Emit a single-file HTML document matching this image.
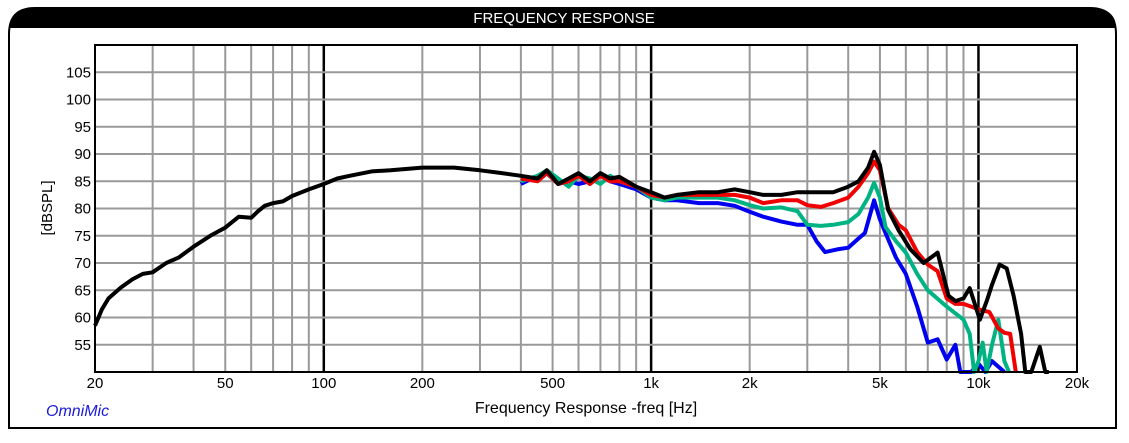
<!DOCTYPE html>
<html><head><meta charset="utf-8"><style>
html,body{margin:0;padding:0;background:#fff;width:1129px;height:443px;overflow:hidden}
svg text{font-family:"Liberation Sans",sans-serif}
</style></head><body>
<svg id="chart" width="1129" height="443" viewBox="0 0 1129 443" xmlns="http://www.w3.org/2000/svg">
<path d="M9,428 L9,34 Q9,8 35,8 L1090,8 Q1116,8 1116,34 L1116,428 Z" fill="#fff" stroke="#000" stroke-width="2"/>
<path d="M9,28 L9,34 Q9,8 35,8 L1090,8 Q1116,8 1116,28 Z" fill="#000"/>
<text x="564" y="23" fill="#fff" font-size="15" text-anchor="middle">FREQUENCY RESPONSE</text>
<g id="grid"></g>
<g id="series"></g>
<rect x="95" y="45" width="982" height="327" fill="none" stroke="#000" stroke-width="2"/>
<g id="labels"></g>
<text transform="translate(52,208) rotate(-90)" font-size="15" text-anchor="middle">[dBSPL]</text>
<text x="586" y="413" font-size="16" text-anchor="middle">Frequency Response -freq [Hz]</text>
<text x="46" y="416" font-size="16" font-style="italic" fill="#1a1adc">OmniMic</text>
</svg>
<script>
const xTicks=[20,50,100,200,500,1000,2000,5000,10000,20000];
const xTickLabels=["20","50","100","200","500","1k","2k","5k","10k","20k"];
const yTicks=[55,60,65,70,75,80,85,90,95,100,105];
const blackFreq=[20,21,22,24,26,28,30,33,36,40,45,50,55,60,63,66,70,75,80,90,100,110,120,140,160,200,250,300,350,400,450,480,520,560,600,650,700,750,800,900,1000,1100,1200,1400,1600,1800,2000,2200,2500,2800,3000,3300,3600,4000,4300,4600,4800,5000,5300,5700,6200,6800,7500,8100,8500,9000,9400,10100,10600,11000,11600,12200,12800,13500,13900,14500,15400,16000,16400];
const blackDb=[58.5,61.5,63.5,65.5,67,68,68.3,70,71,73,75,76.5,78.5,78.3,79.5,80.5,81,81.3,82.3,83.5,84.5,85.5,86,86.8,87,87.5,87.5,87,86.5,86,85.5,87,84.5,85.5,86.5,85,86.5,85.5,85.8,84,83,82,82.5,83,83,83.5,83,82.5,82.5,83,83,83,83,84,85,87.5,90.4,88,79.7,76,72.5,70,71.9,64,63,63.5,65.4,59.6,63,66,69.7,69,64,57,50,50,54.6,50,50];
const redFreq=[400,450,480,520,560,600,650,700,750,800,900,1000,1100,1200,1400,1600,1800,2000,2200,2500,2800,3000,3300,3600,4000,4300,4600,4800,5000,5300,5700,6000,6500,7000,7500,8000,8500,9000,9500,10000,10800,11500,12000,12500,13000];
const redDb=[85.5,85,86.5,84.5,85,86,84.5,86,85,85,84,82.5,82,82.5,82.5,82.5,82.5,82,81,81.5,81.5,80.6,80.3,81,82,84,86.5,88.6,87,80,77,76,72,69.7,68.5,63.5,62.5,62.5,62,61.5,61,58,57.2,57,50];
const greenFreq=[400,450,480,520,560,600,650,700,750,800,900,1000,1100,1200,1400,1600,1800,2000,2200,2500,2800,3000,3300,3600,4000,4300,4600,4800,5000,5200,5600,6000,6500,7000,8000,9000,9400,9700,10000,10300,10600,11000,11500,12000,12400];
const greenDb=[85,86,87,85.5,84,86,85.5,84.5,86,85,84,82,81.5,82,82,82,81.5,80.6,80,80.2,79.5,77,76.8,77,77.5,79,82,84.7,82,76.6,74,71.9,68,65,62,59.6,57,50,52,55.4,50,55,59.6,52,50];
const blueFreq=[400,450,480,520,560,600,650,700,750,800,900,1000,1100,1200,1400,1600,1800,2000,2200,2500,2800,3000,3200,3400,3700,4000,4300,4500,4800,5000,5200,5600,6000,6500,7000,7500,8000,8500,8800,9000,9500,10000,10500,11000,11500,12000];
const blueDb=[84.5,86,86.5,84.5,85,84.5,85,86,85,84.5,83.5,82,81.5,81.5,81,81,80.5,79.4,78.5,77.6,77,77,74,72,72.5,72.8,74.5,75.5,81.5,78,75.5,71,68,62,55.4,56,52.3,55,50,50,50,51.5,50,52,51,50];
const X0=95,X1=1077,Y0=45,Y1=372,FMIN=20,FMAX=20000,DMIN=50,DMAX=110;
function xs(f){return X0+(X1-X0)*Math.log10(f/FMIN)/Math.log10(FMAX/FMIN);}
function ys(d){d=Math.max(DMIN,Math.min(DMAX,d));return Y1-(Y1-Y0)*(d-DMIN)/(DMAX-DMIN);}
const NS="http://www.w3.org/2000/svg";
const grid=document.getElementById('grid'),labels=document.getElementById('labels'),series=document.getElementById('series');
function mk(tag,parent){const e=document.createElementNS(NS,tag);parent.appendChild(e);return e;}
// vertical grid
for(let dec=10;dec<=10000;dec*=10){for(let m=1;m<=9;m++){const f=dec*m;if(f<=FMIN||f>=FMAX)continue;const major=(m===1);
const l=mk('line',grid);


l.setAttribute('x1',xs(f));l.setAttribute('x2',xs(f));l.setAttribute('y1',Y0);l.setAttribute('y2',Y1);
l.setAttribute('stroke',major?'#000':'#999');l.setAttribute('stroke-width',major?2.5:2);}}
// horizontal grid + y labels
yTicks.forEach(v=>{const l=mk('line',grid);


l.setAttribute('x1',X0);l.setAttribute('x2',X1);l.setAttribute('y1',ys(v));l.setAttribute('y2',ys(v));
l.setAttribute('stroke','#999');l.setAttribute('stroke-width',2);
const t=mk('text',labels);


t.setAttribute('x',91);t.setAttribute('y',ys(v)+5);t.setAttribute('font-size',15);t.setAttribute('text-anchor','end');t.textContent=v;});
xTicks.forEach((f,i)=>{const t=mk('text',labels);


t.setAttribute('x',xs(f));t.setAttribute('y',388);t.setAttribute('font-size',15);t.setAttribute('text-anchor','middle');t.textContent=xTickLabels[i];});
function draw(fr,db,color,name){const p=mk('path',series);


p.setAttribute('d',fr.map((f,i)=>(i?'L':'M')+xs(f).toFixed(1)+','+ys(db[i]).toFixed(1)).join(' '));
p.setAttribute('fill','none');p.setAttribute('stroke',color);p.setAttribute('stroke-width',4);p.setAttribute('stroke-linejoin','round');}
draw(blueFreq,blueDb,'#0000f0','blue-response-line');
draw(greenFreq,greenDb,'#00b383','green-response-line');
draw(redFreq,redDb,'#f00000','red-response-line');
draw(blackFreq,blackDb,'#000','black-response-line');
</script>
</body></html>
